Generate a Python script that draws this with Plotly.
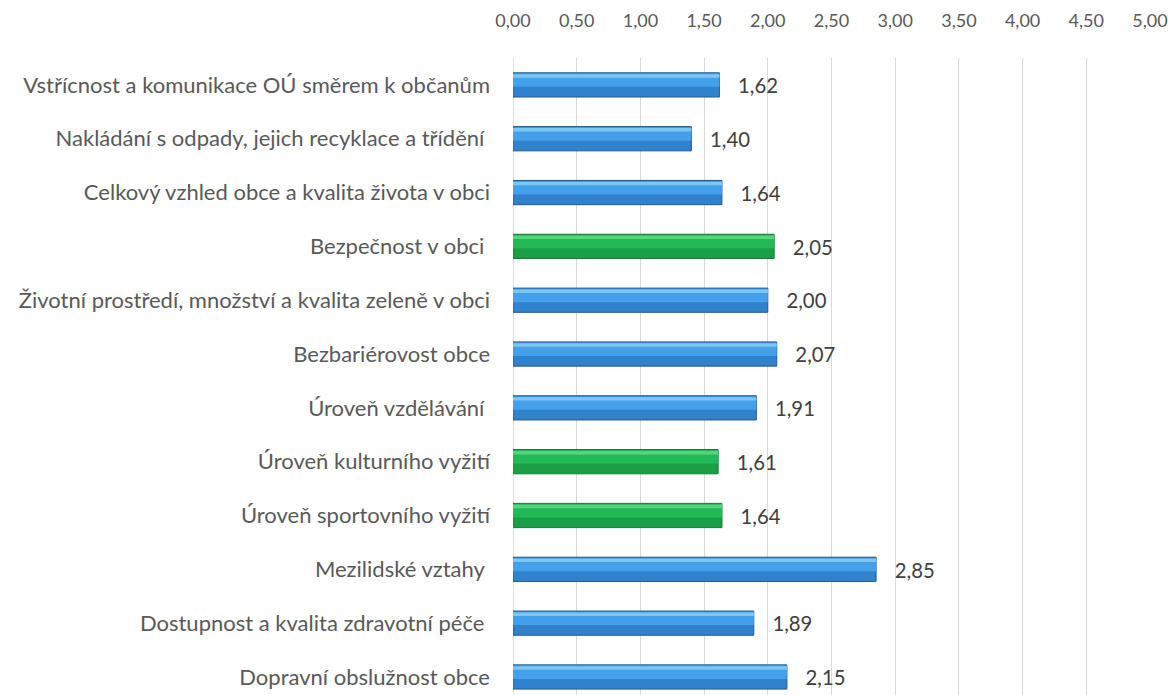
import plotly.graph_objects as go

categories = [
    "Dopravní obslužnost obce",
    "Dostupnost a kvalita zdravotní péče ",
    "Mezilidské vztahy ",
    "Úroveň sportovního vyžití",
    "Úroveň kulturního vyžití",
    "Úroveň vzdělávání ",
    "Bezbariérovost obce",
    "Životní prostředí, množství a kvalita zeleně v obci",
    "Bezpečnost v obci ",
    "Celkový vzhled obce a kvalita života v obci",
    "Nakládání s odpady, jejich recyklace a třídění ",
    "Vstřícnost a komunikace OÚ směrem k občanům",
]
values = [2.15, 1.89, 2.85, 1.64, 1.61, 1.91, 2.07, 2.00, 2.05, 1.64, 1.40, 1.62]
groups = ["b", "b", "b", "g", "g", "b", "b", "b", "g", "b", "b", "b"]
tick_vals = [0, 0.5, 1, 1.5, 2, 2.5, 3, 3.5, 4, 4.5, 5]

base_col = {"b": "#3182cc", "g": "#1a9f47"}
mid_col = {"b": "#44a0e8", "g": "#22ba57"}
hi_col = {"b": "#7cc6f4", "g": "#55d47f"}
edge_col = {"b": "#25598c", "g": "#157a35"}

BW = 0.45
FONT = "Lato"

fig = go.Figure()
fig.add_trace(go.Bar(
    y=categories, x=values, orientation="h", width=BW,
    marker=dict(color=[base_col[g] for g in groups],
                line=dict(color=[edge_col[g] for g in groups], width=1)),
    texttemplate="   %{x:.2f}", textposition="outside",
    textfont=dict(size=21, color="#404040", family=FONT),
    cliponaxis=False, hoverinfo="skip", showlegend=False,
))
fig.add_trace(go.Bar(
    y=categories, x=values, orientation="h", width=BW * 0.55, offset=-BW * 0.08,
    marker=dict(color=[mid_col[g] for g in groups], line=dict(width=0)),
    hoverinfo="skip", showlegend=False,
))
fig.add_trace(go.Bar(
    y=categories, x=values, orientation="h", width=BW * 0.14, offset=BW * 0.3,
    marker=dict(color=[hi_col[g] for g in groups], line=dict(width=0)),
    hoverinfo="skip", showlegend=False,
))

fig.update_layout(
    width=1160, height=687,
    margin=dict(l=505, r=18, t=50, b=0),
    paper_bgcolor="white", plot_bgcolor="white",
    barmode="overlay",
    separators=", ",
    font=dict(family=FONT, size=20, color="#404040"),
    xaxis=dict(
        side="top", range=[0, 5], tickvals=tick_vals, tickformat=".2f",
        showgrid=True, gridcolor="#d9d9d9", gridwidth=1,
        zeroline=False, showline=False,
        tickfont=dict(size=18, color="#595959", family=FONT),
        ticks="", ticklabelstandoff=26,
    ),
    yaxis=dict(
        categoryorder="array", categoryarray=categories,
        range=[-0.335, 11.5],
        showgrid=False, zeroline=False,
        showline=False, ticks="", ticklabelstandoff=22,
        tickfont=dict(size=22, color="#595959", family=FONT),
    ),
    shapes=[dict(type="line", xref="x", yref="paper", x0=0, x1=0, y0=0, y1=1,
                 line=dict(color="#bfbfbf", width=1), layer="below")],
)

fig.write_html("out.html")
